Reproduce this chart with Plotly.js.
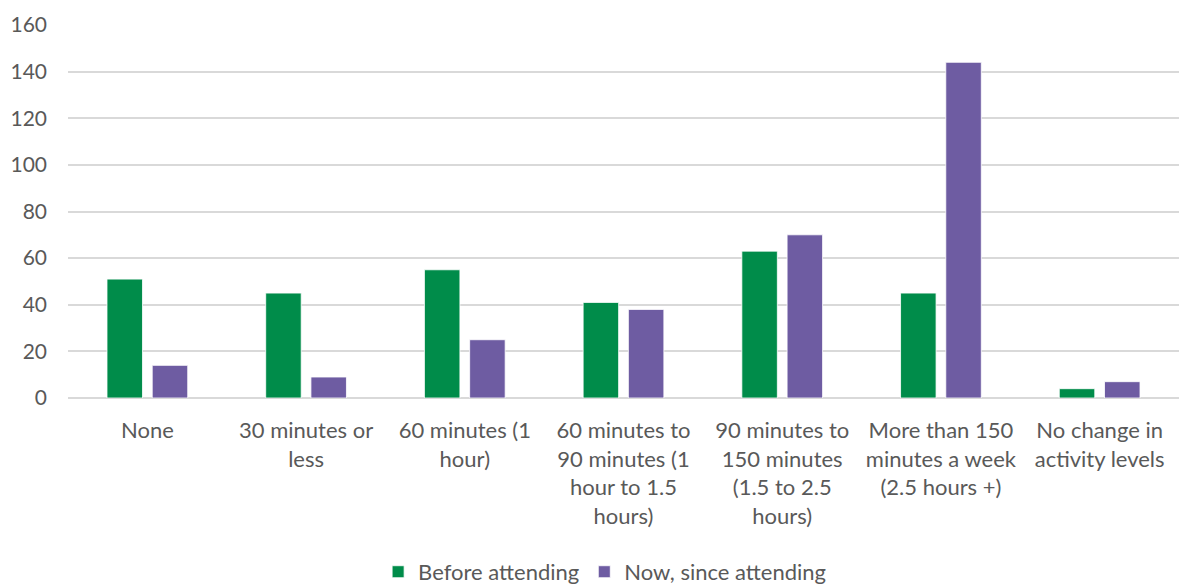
<!DOCTYPE html>
<html>
<head>
<meta charset="utf-8">
<script src="https://cdn.plot.ly/plotly-3.0.1.min.js"></script>
<style>
  html, body { margin: 0; padding: 0; background: #ffffff; }
  #chart { width: 1180px; height: 584px; }
</style>
</head>
<body>
<div id="chart"></div>
<script>
const categories = [
  "None",
  "30 minutes or less",
  "60 minutes (1 hour)",
  "60 minutes to 90 minutes (1 hour to 1.5 hours)",
  "90 minutes to 150 minutes (1.5 to 2.5 hours)",
  "More than 150 minutes a week (2.5 hours +)",
  "No change in activity levels"
];
const tickLabels = [
  "None",
  "30 minutes or<br>less",
  "60 minutes (1<br>hour)",
  "60 minutes to<br>90 minutes (1<br>hour to 1.5<br>hours)",
  "90 minutes to<br>150 minutes<br>(1.5 to 2.5<br>hours)",
  "More than 150<br>minutes a week<br>(2.5 hours +)",
  "No change in<br>activity levels"
];
const beforeAttending = [51, 45, 55, 41, 63, 45, 4];
const nowSinceAttending = [14, 9, 25, 38, 70, 144, 7];
const yTicks = [0, 20, 40, 60, 80, 100, 120, 140, 160];

const FONT = "Lato, 'Open Sans', sans-serif";
const TEXT = "#595959";

const traces = [
  {
    type: "bar",
    name: "Before attending",
    x: categories,
    y: beforeAttending,
    marker: { color: "#008C4A", line: { color: "#ffffff", width: 0.8 } },
    hoverinfo: "x+y+name"
  },
  {
    type: "bar",
    name: "Now, since attending",
    x: categories,
    y: nowSinceAttending,
    marker: { color: "#6E5CA2", line: { color: "#ffffff", width: 0.8 } },
    hoverinfo: "x+y+name"
  }
];

const layout = {
  width: 1180,
  height: 584,
  paper_bgcolor: "#ffffff",
  plot_bgcolor: "#ffffff",
  margin: { l: 68, r: 1, t: 25, b: 186, autoexpand: false },
  barmode: "group",
  bargap: 0.43,
  bargroupgap: 0.215,
  font: { family: FONT, size: 21, color: TEXT },
  xaxis: {
    type: "category",
    tickvals: categories,
    ticktext: tickLabels,
    showgrid: false,
    zeroline: false,
    showline: false,
    ticks: "",
    automargin: false,
    ticklabelstandoff: 17,
    tickfont: { family: FONT, size: 22, color: TEXT }
  },
  yaxis: {
    range: [0, 160],
    tickvals: yTicks,
    showgrid: true,
    gridcolor: "#D9D9D9",
    gridwidth: 1.5,
    zeroline: true,
    zerolinecolor: "#D9D9D9",
    zerolinewidth: 1.5,
    showline: false,
    ticks: "",
    automargin: false,
    ticklabelstandoff: 20,
    tickfont: { family: FONT, size: 21, color: TEXT }
  },
  showlegend: true,
  legend: {
    orientation: "h",
    x: 0.483,
    xanchor: "center",
    y: -0.41,
    yanchor: "top",
    font: { family: FONT, size: 22, color: TEXT },
    itemwidth: 30,
    traceorder: "normal"
  }
};

Plotly.newPlot("chart", traces, layout, { displayModeBar: false });
</script>
</body>
</html>
